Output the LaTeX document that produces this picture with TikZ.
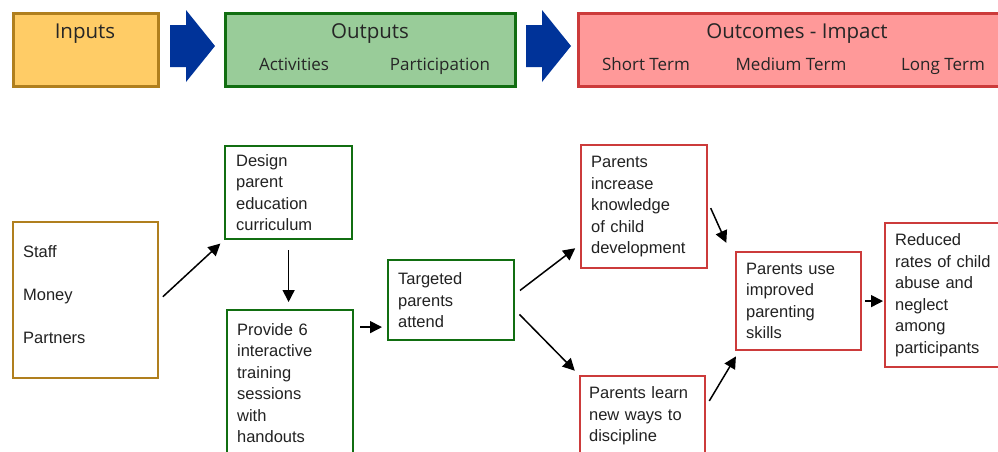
\documentclass[tikz,border=0pt]{standalone}
\usepackage{fontspec}
\setmainfont{Liberation Sans}
\newfontfamily\hdrfont{Open Sans}
\usepackage{xcolor}
\usetikzlibrary{arrows.meta, positioning, calc}

\definecolor{inpfill}{HTML}{FFCC66}
\definecolor{inpline}{HTML}{B07F1E}
\definecolor{outfill}{HTML}{99CC99}
\definecolor{outline}{HTML}{116E11}
\definecolor{outcfill}{HTML}{FF9999}
\definecolor{outcline}{HTML}{CC3B3B}
\definecolor{bigblue}{HTML}{003399}
\definecolor{txt}{HTML}{222222}

\begin{document}
\begin{tikzpicture}[
  x=1pt, y=-1pt,
  hdr/.style={
    rectangle,
    draw,
    line width=2.6pt,
    anchor=north west,
    minimum height=73pt,
    inner sep=0pt
  },
  hdrtitle/.style={anchor=base, font=\hdrfont\fontsize{20.5}{24}\selectfont, text=black!85},
  hdrsub/.style={anchor=base, font=\hdrfont\fontsize{17}{20}\selectfont, text=black!85},
  box/.style={
    rectangle,
    draw,
    line width=2.2pt,
    fill=white,
    anchor=north west,
    align=left,
    inner xsep=10pt,
    inner ysep=0pt,
    text=txt,
    font=\fontsize{16.5}{21.5}\selectfont
  },
  arrow/.style={-{Triangle[length=12pt, width=12pt]}, line width=1.5pt}
]

\useasboundingbox (0,0) rectangle (998,451);
\clip (0,0) rectangle (998,451);

% Kopfzeile
\node[hdr, fill=inpfill, draw=inpline, minimum width=145pt] (hin) at (12,12) {};
\node[hdrtitle] at (85,38.5) {Inputs};

\node[hdr, fill=outfill, draw=outline, minimum width=290pt] (hout) at (224,12) {};
\node[hdrtitle] at (370,38.5) {Outputs};
\node[hdrsub] at (294,70) {Activities};
\node[hdrsub] at (440,70) {Participation};

\node[hdr, fill=outcfill, draw=outcline, minimum width=440pt] (houtc) at (577,12) {};
\node[hdrtitle] at (797,38.5) {Outcomes - Impact};
\node[hdrsub] at (646,70) {Short Term};
\node[hdrsub] at (791,70) {Medium Term};
\node[hdrsub] at (943,70) {Long Term};

% blaue Pfeile
\foreach \x in {170, 526}
  \fill[bigblue, xshift=\x] (0,25) -- (16,25) -- (16,10) -- (45,46)
    -- (16,82) -- (16,67) -- (0,67) -- cycle;

% Inputs
\node[box, draw=inpline, minimum width=145pt, minimum height=156pt, text width=125pt] (inp) at (12,221) {%
  Staff\\[21.5pt]
  Money\\[21.5pt]
  Partners\\[-9.5pt]
  \mbox{}
};

% Outputs
\node[box, draw=outline, minimum width=127pt, minimum height=93pt, text width=105pt] (design) at (224,145) {%
  Design\\
  parent\\
  education\\
  curriculum
};
\node[box, draw=outline, minimum width=126pt, minimum height=146pt, text width=106pt] (provide) at (226,309) {%
  Provide 6\\
  interactive\\
  training\\
  sessions\\
  with\\
  handouts
};
\node[box, draw=outline, minimum width=126pt, minimum height=80pt, text width=106pt] (targ) at (387,259) {%
  Targeted\\
  parents\\
  attend
};

% Outcomes
\node[box, draw=outcline, minimum width=126pt, minimum height=123pt, text width=106pt] (incr) at (580,144) {%
  Parents\\
  increase\\
  knowledge\\
  of child\\
  development
};
\node[box, draw=outcline, minimum width=125pt, minimum height=80pt, text width=107pt, inner xsep=9pt] (learn) at (579,375) {%
  Parents learn\\
  new ways to\\
  discipline
};
\node[box, draw=outcline, minimum width=125pt, minimum height=98pt, text width=105pt] (use) at (735,251) {%
  Parents use\\
  improved\\
  parenting\\
  skills
};
\node[box, draw=outcline, minimum width=130pt, minimum height=144pt, text width=110pt] (red) at (884,222) {%
  Reduced\\
  rates of child\\
  abuse and\\
  neglect\\
  among\\
  participants
};

% Verbindungen
\coordinate (tin) at ([yshift=-27pt]targ.west);
\draw[arrow, shorten <=5pt, shorten >=5pt] (inp.east) -- (design.south west);
\draw[arrow, shorten <=10pt, shorten >=7pt] (design.south) -- (design.south |- provide.north);
\draw[arrow, shorten <=6pt, shorten >=5pt] (provide.east |- tin) -- (tin);
\draw[arrow, shorten <=6pt, shorten >=6pt] ([yshift=6pt]targ.east) -- ([yshift=-38pt]incr.west);
\draw[arrow, shorten <=6pt, shorten >=6pt] ([yshift=-10pt]targ.east) -- (learn.north west);
\draw[arrow, shorten <=6pt, shorten >=9pt] ([yshift=4pt]incr.east) -- ([xshift=-5pt]use.north west);
\draw[arrow, shorten <=6pt, shorten >=6pt] ([yshift=10pt]learn.east) -- ([xshift=4pt]use.south west);
\draw[arrow, shorten <=3pt, shorten >=1pt] (use.east) -- (use.east -| red.west);

\end{tikzpicture}
\end{document}
